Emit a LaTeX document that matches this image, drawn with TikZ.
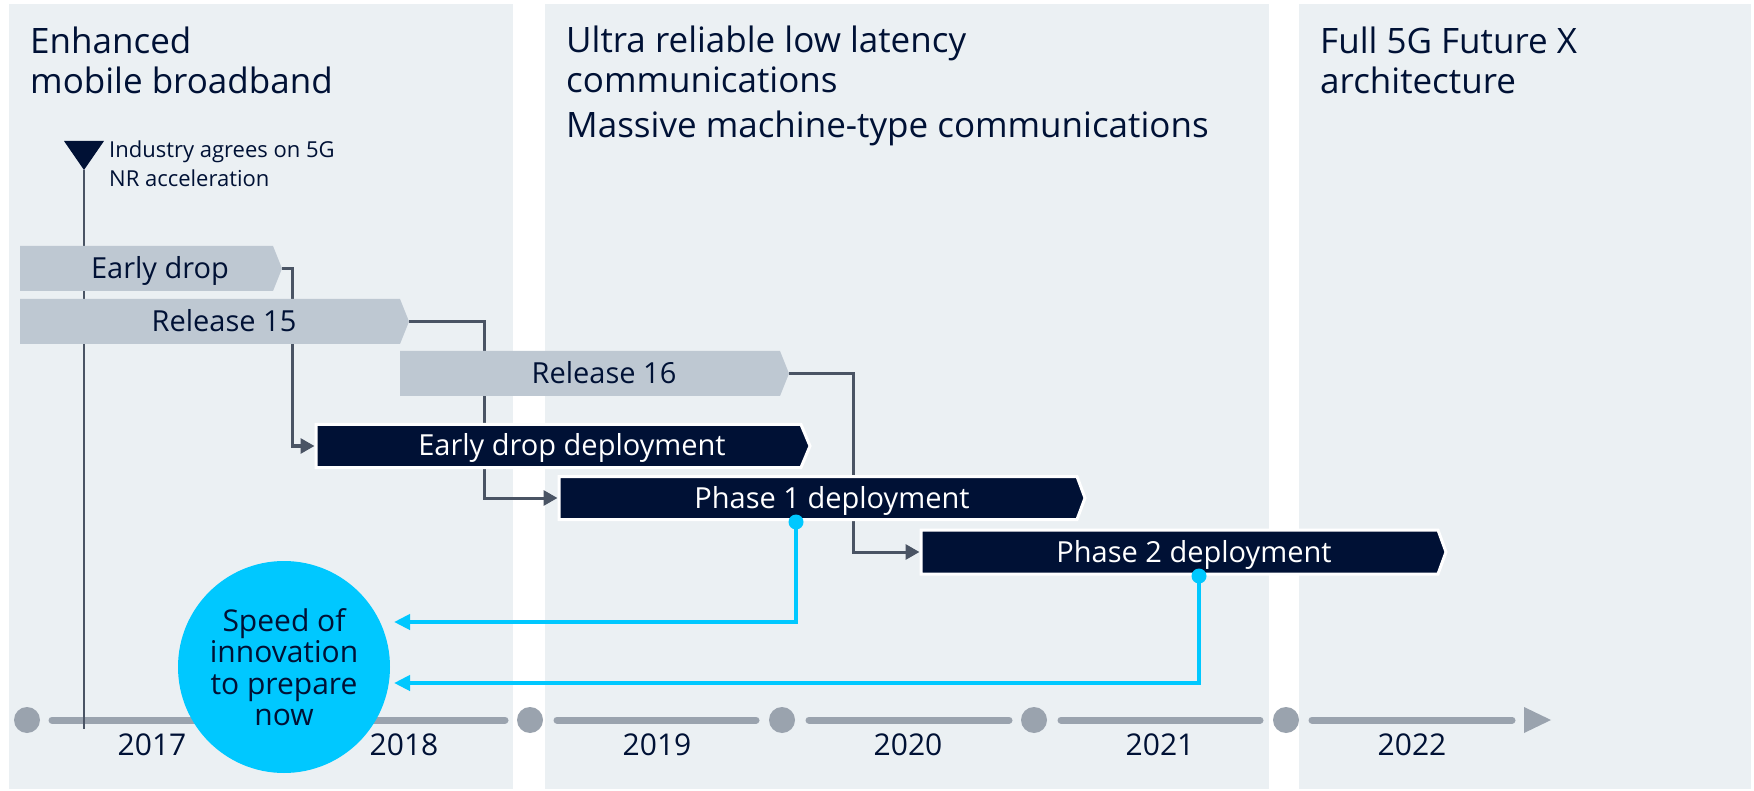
\documentclass[tikz,border=0pt]{standalone}
\usepackage{fontspec}
\setmainfont{Open Sans}
\usetikzlibrary{arrows.meta}

\definecolor{panelbg}{HTML}{EBF0F3}
\definecolor{tagfill}{HTML}{BEC8D2}
\definecolor{axisgrey}{HTML}{9AA3AE}
\definecolor{linegrey}{HTML}{4A5464}
\definecolor{navy}{HTML}{001135}
\definecolor{brightcyan}{HTML}{00C8FF}

\tikzset{
  panel/.style={fill=panelbg},
  grey tag/.style={fill=tagfill},
  dark tag/.style={fill=navy, draw=white, line width=3pt},
  tag text/.style={font=\fontsize{29}{34}\selectfont, anchor=base, inner sep=0pt},
  title/.style={font=\fontsize{35}{40.5}\selectfont, text=navy, align=left, anchor=north west, inner sep=0pt},
  note/.style={font=\fontsize{22}{29}\selectfont, text=navy, align=left, anchor=north west, inner sep=0pt},
  year/.style={font=\fontsize{30}{36}\selectfont, text=navy, anchor=base, inner sep=0pt},
  axis seg/.style={draw=axisgrey, line width=7pt, line cap=round},
  axis dot/.style={fill=axisgrey},
  conn/.style={draw=linegrey, line width=3pt, -{Triangle[length=14pt,width=15pt]}},
  cyconn/.style={draw=brightcyan, line width=4pt, -{Triangle[length=16pt,width=15pt]}},
  cydot/.style={fill=brightcyan},
  bubble/.style={circle, fill=brightcyan, minimum size=212pt, inner sep=0pt,
    font=\fontsize{30}{31.5}\selectfont, text=navy, align=center}
}

\begin{document}
\begin{tikzpicture}[x=1pt, y=-1pt]
\useasboundingbox (0,0) rectangle (1754,791);
\fill[white] (0,0) rectangle (1754,791);

% era panels
\fill[panel] (9,4) rectangle (513,789);
\fill[panel] (545,4) rectangle (1269,789);
\fill[panel] (1299,4) rectangle (1751,789);

\node[title] (era1) at (30,26.4) {Enhanced\\mobile broadband};
\node[title] (era2) at (566,25.4) {Ultra reliable low latency\\communications\\[4pt]Massive machine-type communications};
\node[title] (era3) at (1320,26.4) {Full 5G Future X\\architecture};

% time axis
\draw[axis seg] (52,720) -- (505,720);
\draw[axis seg] (557,720) -- (756,720);
\draw[axis seg] (809,720) -- (1009,720);
\draw[axis seg] (1061,720) -- (1260,720);
\draw[axis seg] (1312,720) -- (1512,720);
\foreach \x in {27,530,782,1034,1286} \fill[axis dot] (\x,720) circle (13);
\fill[axisgrey] (1524,707) -- (1551,720) -- (1524,733) -- cycle;

\node[year] (y2017) at (152,755) {2017};
\node[year] (y2018) at (404,755) {2018};
\node[year] (y2019) at (657,755) {2019};
\node[year] (y2020) at (908,755) {2020};
\node[year] (y2021) at (1160,755) {2021};
\node[year] (y2022) at (1412,755) {2022};

% milestone
\coordinate (ms) at (84,170);
\coordinate (ms-end) at (84,729);
\draw[linegrey, line width=2.5pt] (ms) -- (ms-end);
\fill[navy] (64,141) -- (104,141) -- (ms) -- cycle;
\node[note] (msnote) at (109,140.3) {Industry agrees on 5G\\NR acceleration};

% anchor points of the tags
\coordinate (ed-tip) at (282,268.5);
\coordinate (r15-tip) at (409,321.5);
\coordinate (r16-tip) at (789,373.5);
\coordinate (edd-w) at (316,446);
\coordinate (p1-w) at (559,498);
\coordinate (p2-w) at (921,552);

% release to deployment connectors
\draw[conn, shorten >=1.5pt] (ed-tip) -- ++(10,0) |- (edd-w);
\draw[conn, shorten >=1.5pt] (r15-tip) -- ++(75,0) |- (p1-w);
\draw[conn, shorten >=1.5pt] (r16-tip) -- ++(64,0) |- (p2-w);

% standard releases
\fill[grey tag] (20,246) -- (273,246) -- (ed-tip) -- (273,291) -- (20,291) -- cycle;
\node[tag text, text=navy] (ed) at (160,279) {Early drop};
\fill[grey tag] (20,299) -- (400,299) -- (r15-tip) -- (400,344) -- (20,344) -- cycle;
\node[tag text, text=navy] (r15) at (224,332) {Release 15};
\fill[grey tag] (400,351) -- (780,351) -- (r16-tip) -- (780,396) -- (400,396) -- cycle;
\node[tag text, text=navy] (r16) at (604,384) {Release 16};

% deployments
\path[dark tag] (edd-w) |- (801,424.5) -- (810,446) -- (801,467.5) -| cycle;
\node[tag text, text=white] (edd) at (572,456) {Early drop deployment};
\path[dark tag] (p1-w) |- (1077,476.5) -- (1085,498) -- (1077,519.5) -| cycle;
\node[tag text, text=white] (p1) at (832,508) {Phase 1 deployment};
\path[dark tag] (p2-w) |- (1438,530) -- (1446,552) -- (1438,574) -| cycle;
\node[tag text, text=white] (p2) at (1194,562) {Phase 2 deployment};

% feedback into innovation
\node[bubble] (speed) at (284,667) {Speed of\\innovation\\to prepare\\now};
\coordinate (p1-dot) at (796,522);
\coordinate (p2-dot) at (1199,576);
\coordinate (in-a) at (394,622);
\coordinate (in-b) at (394,683);
\draw[cyconn] (p1-dot) |- (in-a);
\draw[cyconn] (p2-dot) |- (in-b);
\fill[cydot] (p1-dot) circle (7.5);
\fill[cydot] (p2-dot) circle (7.5);
\end{tikzpicture}
\end{document}
